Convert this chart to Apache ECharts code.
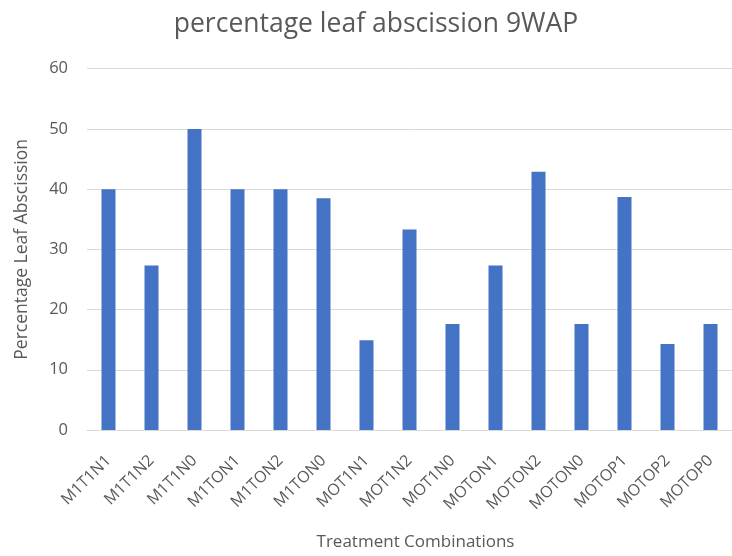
<!DOCTYPE html>
<html><head><meta charset="utf-8">
<script src="https://cdn.jsdelivr.net/npm/echarts@6/dist/echarts.min.js"></script>
<style>html,body{margin:0;padding:0;background:#fff}#c{width:732px;height:556px}</style>
</head><body><div id="c"></div>
<script>
const categories = ["M1T1N1","M1T1N2","M1T1N0","M1TON1","M1TON2","M1TON0","MOT1N1","MOT1N2","MOT1N0","MOTON1","MOTON2","MOTON0","MOTOP1","MOTOP2","MOTOP0"];
const values = [40, 27.3, 50, 40, 40, 38.5, 14.9, 33.3, 17.6, 27.3, 42.9, 17.6, 38.7, 14.3, 17.6];
const yTicks = [0, 10, 20, 30, 40, 50, 60];
const chart = echarts.init(document.getElementById('c'));
const font = "'Open Sans', 'Noto Sans', sans-serif";
chart.setOption({
  animation: false,
  textStyle: {fontFamily: font},
  title: {text: 'percentage leaf abscission 9WAP', left: 371, top: 6, textAlign: 'center',
    textStyle: {fontSize: 26.5, fontWeight: 'normal', color: '#595959', fontFamily: font}},
  grid: {left: 87, top: 68.7, width: 651, height: 363.6, containLabel: false},
  xAxis: {type: 'category', data: categories,
    name: 'Treatment Combinations', nameLocation: 'middle', nameGap: 104,
    nameTextStyle: {fontSize: 17, color: '#595959', fontFamily: font, padding: [0, 0, 0, 12]},
    axisLine: {lineStyle: {color: '#d9d9d9', width: 1}},
    axisTick: {show: false},
    axisLabel: {rotate: 45, interval: 0, margin: 28, fontSize: 16, color: '#595959', fontFamily: font}},
  yAxis: {type: 'value', min: yTicks[0], max: yTicks[yTicks.length-1], interval: 10,
    name: 'Percentage Leaf Abscission', nameLocation: 'middle', nameGap: 56, nameRotate: 90,
    nameTextStyle: {fontSize: 17.5, color: '#595959', fontFamily: font},
    axisLine: {show: false}, axisTick: {show: false},
    axisLabel: {margin: 19, fontSize: 16.5, color: '#595959', fontFamily: font},
    splitLine: {lineStyle: {color: '#d9d9d9', width: 1}}},
  series: [{type: 'bar', data: values, barWidth: 14, itemStyle: {color: '#4472c4'}}]
});
</script></body></html>
